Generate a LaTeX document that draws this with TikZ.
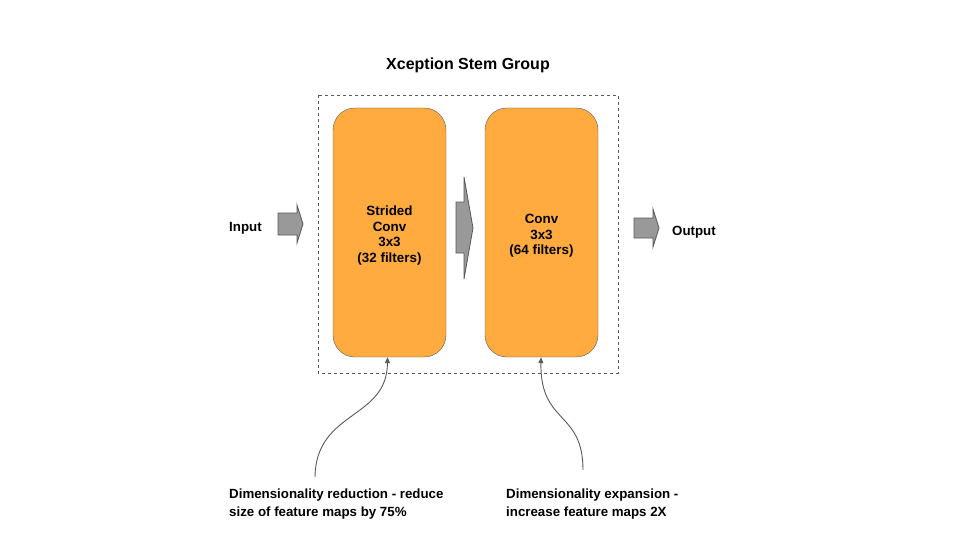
\documentclass[tikz,border=0pt]{standalone}
\usepackage{fontspec}
\setmainfont{Liberation Sans}
\usetikzlibrary{arrows.meta}
\definecolor{stemorange}{HTML}{FFAB40}
\definecolor{stemline}{HTML}{595959}
\definecolor{stemgrey}{HTML}{999999}
\tikzset{
	layer/.style={draw=stemline,fill=stemorange,rounded corners=22,minimum width=113,minimum height=249,inner sep=0,align=center,font=\bfseries\fontsize{13.4}{15.5}\selectfont},
	label/.style={font=\bfseries\fontsize{13.3}{18}\selectfont,align=left,inner sep=0},
	blockarrow/.style={draw=stemline,fill=stemgrey,line width=0.8},
	note/.style={->,draw=stemline,line width=0.9,>={Triangle[length=6,width=5]}}
}
\begin{document}
\begin{tikzpicture}[x=1pt,y=-1pt]
		\useasboundingbox (0,0) rectangle (960,540);
		\node[label,font=\bfseries\fontsize{16}{18}\selectfont] (title) at (468, 65) {Xception Stem Group};
		\draw[stemline,dashed,line width=0.8] (318, 95) rectangle (618, 373);
		
		\node[layer] (stem1) at (389.5, 232.5) {\rule{0pt}{16pt}Strided\\Conv\\3x3\\(32 filters)};
		\node[layer] (stem2) at (541.5, 232.5) {\rule{0pt}{16pt}Conv\\3x3\\(64 filters)};
		
		\node[label,anchor=west] (input) at (229, 228) {Input};
		\node[label,anchor=west] (output) at (672, 232) {Output};
		
		% block arrows
		\draw[blockarrow] (278,213) -- (297,213) -- (297,205) -- (303,224) -- (297,243) -- (297,235) -- (278,235) -- cycle;
		\draw[blockarrow] (456,202) -- (464,202) -- (464,177) -- (473,228) -- (464,279) -- (464,253) -- (456,253) -- cycle;
		\draw[blockarrow] (634,218) -- (653,218) -- (653,209) -- (659,228) -- (653,247) -- (653,238) -- (634,238) -- cycle;
		
		\node[label,anchor=north west] (reduce) at (229, 489) {Dimensionality reduction - reduce\\size of feature maps by 75\%};
		\node[label,anchor=north west] (expand) at (506, 489) {Dimensionality expansion -\\increase feature maps 2X};
		
		\coordinate (c1) at (315, 477);
		\coordinate (c2) at (583, 470);
		\draw[note] (c1) .. controls (316, 410) and (387, 420) .. ([xshift=-2]stem1.south);
		\draw[note] (c2) .. controls (583, 410) and (540, 425) .. (stem2.south -| 541, 0);
		\end{tikzpicture}
\end{document}
